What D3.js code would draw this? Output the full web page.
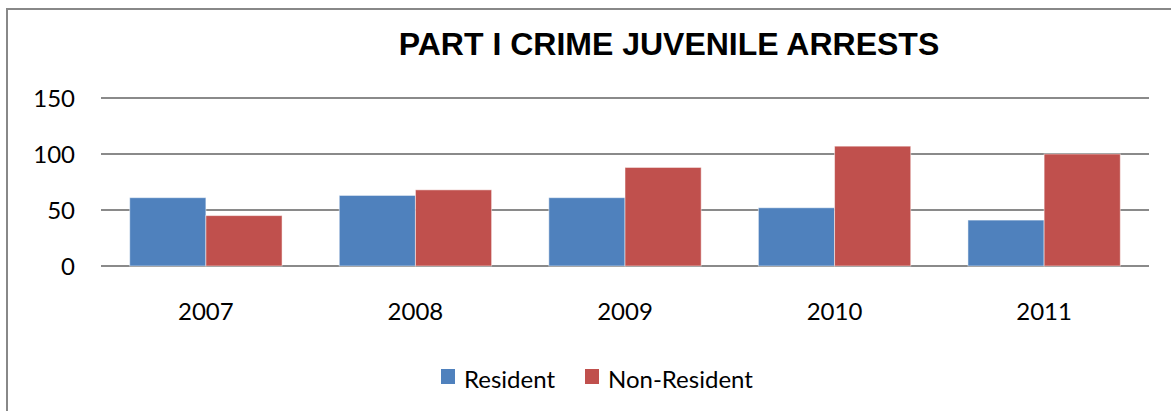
<!DOCTYPE html>
<html lang="en">
<meta charset="utf-8">
<head>
    <script src='https://d3js.org/d3.v7.min.js'></script>
    <style>
        body { margin: 0; background: #fff; }
    </style>
</head>
<body>
<div id="chart"></div>
</body>

<script>

// chart data
const years = ["2007", "2008", "2009", "2010", "2011"]
const resident = [61, 63, 61, 52, 41]
const nonResident = [45, 68, 88, 107, 100]
const seriesNames = ["Resident", "Non-Resident"]
const yTicks = [0, 50, 100, 150]

const width = 1171,
    height = 411;
const margin = {top: 98, right: 22, bottom: 145, left: 101};

const svg = d3.select("#chart")
    .append("svg")
    .attr("width", width)
    .attr("height", height);

// outer frame (only top and left edges are in view)
svg.append("path")
    .attr("d", `M7,${height} L7,9 L${width},9`)
    .attr("fill", "none")
    .attr("stroke", "#888")
    .attr("stroke-width", 2);

// title
svg.append("text")
    .attr("x", 669)
    .attr("y", 55)
    .attr("text-anchor", "middle")
    .style("font-family", "'Liberation Sans', Arial, sans-serif")
    .style("font-weight", "bold")
    .style("font-size", "32px")
    .text("PART I CRIME JUVENILE ARRESTS");

const x = d3.scaleBand()
    .domain(years)
    .range([margin.left, width - margin.right])
    .paddingInner(0.273)
    .paddingOuter(0.137);

const xSub = d3.scaleBand()
    .domain(seriesNames)
    .range([0, x.bandwidth()]);

const y = d3.scaleLinear()
    .domain([0, 150])
    .range([height - margin.bottom, margin.top]);

const color = d3.scaleOrdinal()
    .domain(seriesNames)
    .range(["#4F81BD", "#C0504D"]);

const labelFont = "Lato, 'Open Sans', sans-serif";

// gridlines
svg.append("g")
    .selectAll("line")
    .data(yTicks)
    .join("line")
    .attr("x1", margin.left)
    .attr("x2", width - margin.right)
    .attr("y1", d => y(d))
    .attr("y2", d => y(d))
    .attr("stroke", "#8a8a8a")
    .attr("stroke-width", 2);

// y tick labels
svg.append("g")
    .selectAll("text")
    .data(yTicks)
    .join("text")
    .attr("x", 75)
    .attr("y", d => y(d) + 9)
    .attr("text-anchor", "end")
    .style("font-family", labelFont)
    .style("font-size", "24px")
    .text(d => d);

// bars
const rows = years.map((yr, i) => ({year: yr, values: [resident[i], nonResident[i]]}));

svg.append("g")
    .selectAll("g")
    .data(rows)
    .join("g")
    .attr("transform", d => `translate(${x(d.year)},0)`)
    .selectAll("rect")
    .data(d => d.values.map((v, j) => ({key: seriesNames[j], value: v})))
    .join("rect")
    .attr("x", d => xSub(d.key))
    .attr("y", d => y(d.value))
    .attr("width", xSub.bandwidth())
    .attr("height", d => y(0) - y(d.value))
    .attr("fill", d => color(d.key))
    .attr("stroke", "rgba(255,255,255,0.5)")
    .attr("stroke-width", 1);

// x labels
svg.append("g")
    .selectAll("text")
    .data(years)
    .join("text")
    .attr("x", d => x(d) + x.bandwidth() / 2)
    .attr("y", 320)
    .attr("text-anchor", "middle")
    .style("font-family", labelFont)
    .style("font-size", "24px")
    .text(d => d);

// legend
const legendX = [441, 585];
const legend = svg.append("g")
    .selectAll("g")
    .data(seriesNames)
    .join("g")
    .attr("transform", (d, i) => `translate(${legendX[i]},369)`);

legend.append("rect")
    .attr("width", 14)
    .attr("height", 15)
    .attr("fill", d => color(d));

legend.append("text")
    .attr("x", 23)
    .attr("y", 19)
    .style("font-family", labelFont)
    .style("font-size", "24px")
    .text(d => d);

</script>
</html>
